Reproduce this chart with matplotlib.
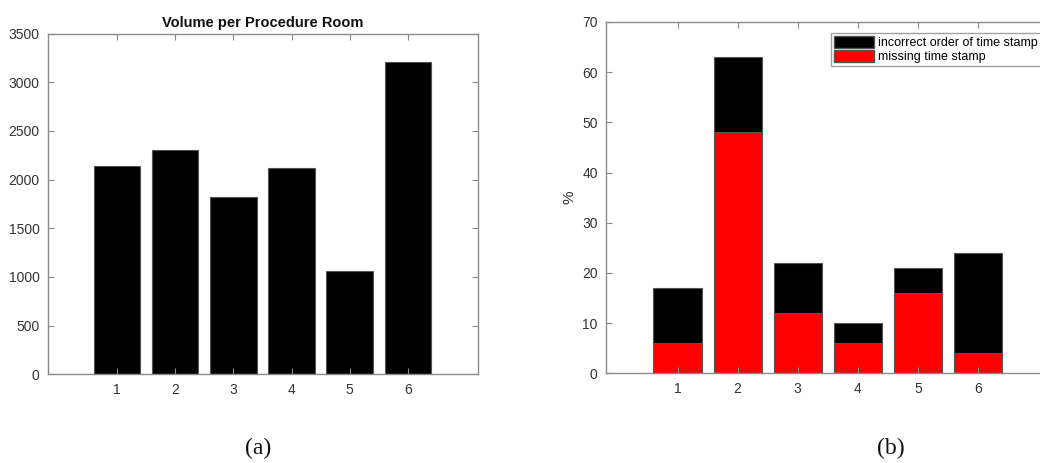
import matplotlib
matplotlib.use("Agg")
import matplotlib.pyplot as plt
from matplotlib.patches import Patch

rooms = [1, 2, 3, 4, 5, 6]
volume = [2140, 2300, 1825, 2120, 1060, 3210]
missing = [6, 48, 12, 6, 16, 4]
incorrect = [11, 15, 10, 4, 5, 20]  # stacked on top of missing
legend_labels = ["incorrect order of time stamp", "missing time stamp"]

plt.rcParams['font.family'] = ['Liberation Sans', 'DejaVu Sans']
AX_C = '#8a8a8a'
TXT_C = '#333333'

fig = plt.figure(figsize=(10.4, 4.63), dpi=100)
fig.patch.set_facecolor('white')

def style(ax):
    for s in ax.spines.values():
        s.set_color(AX_C)
        s.set_linewidth(1.0)
    ax.tick_params(direction='in', length=4, width=0.8, color=AX_C,
                   labelcolor=TXT_C, labelsize=10, top=True, right=True, pad=6)

ax1 = fig.add_axes([0.0459, 0.1916, 0.4135, 0.7357])
ax1.bar(rooms, volume, width=0.8, color='black', edgecolor='#555555', linewidth=0.8)
ax1.set_xlim(-0.19, 7.2)
ax1.set_ylim(0, 3500)
ax1.set_xticks(rooms)
ax1.set_yticks(range(0, 3501, 500))
ax1.set_title("Volume per Procedure Room", fontsize=10.5, fontweight='bold', color='#111111', pad=5)
style(ax1)

ax2 = fig.add_axes([0.5827, 0.1937, 0.4269, 0.7588])
ax2.bar(rooms, missing, width=0.8, color='#ff0000', edgecolor='#555555', linewidth=0.8)
ax2.bar(rooms, incorrect, bottom=missing, width=0.8, color='black', edgecolor='#555555', linewidth=0.8)
ax2.set_xlim(-0.19, 7.2)
ax2.set_ylim(0, 70)
ax2.set_xticks(rooms)
ax2.set_yticks(range(0, 71, 10))
ax2.set_ylabel("%", fontsize=11, color=TXT_C, labelpad=4)
style(ax2)
handles = [Patch(facecolor='black', edgecolor='#555555'),
           Patch(facecolor='#ff0000', edgecolor='#555555')]
leg = ax2.legend(handles, legend_labels, loc='upper right', bbox_to_anchor=(0.98, 0.97),
                 fontsize=9, frameon=True, fancybox=False, handlelength=3.2,
                 handleheight=1.1, handletextpad=0.3, borderpad=0.25,
                 labelspacing=0.05, borderaxespad=0.0)
leg.get_frame().set_edgecolor(AX_C)
leg.get_frame().set_linewidth(1.0)

fig.text(0.248, 0.008, "(a)", fontsize=17, family=['Liberation Serif', 'DejaVu Serif'], ha='center', va='bottom', color='#111111')
fig.text(0.857, 0.008, "(b)", fontsize=17, family=['Liberation Serif', 'DejaVu Serif'], ha='center', va='bottom', color='#111111')

fig.savefig("out.png", dpi=100, facecolor='white')
